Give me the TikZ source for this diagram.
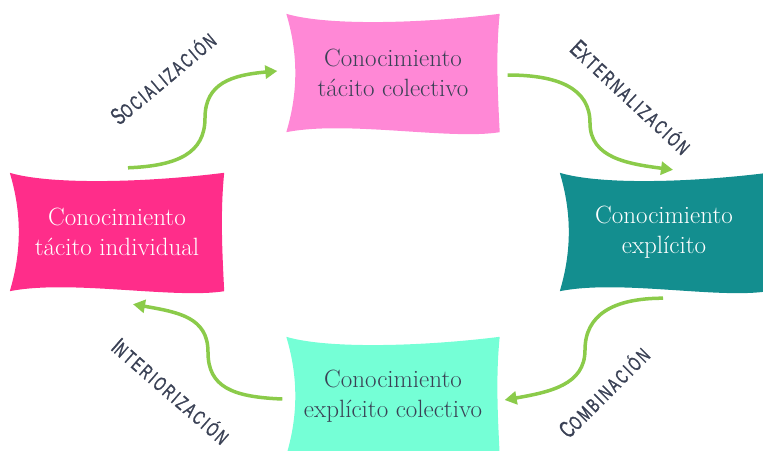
\documentclass[tikz,border=0pt]{standalone}
\usepackage{fontspec}
\newfontfamily\labfont[FakeStretch=0.65,FakeBold=1.2,LetterSpace=12]{Liberation Sans}
\usetikzlibrary{arrows.meta,backgrounds}
\definecolor{rosa}{RGB}{255,45,138}
\definecolor{rosaclaro}{RGB}{255,136,214}
\definecolor{verdeazul}{RGB}{19,142,143}
\definecolor{aguamarina}{RGB}{117,255,214}
\definecolor{flecha}{RGB}{139,203,74}
\definecolor{tinta}{RGB}{58,65,85}
% wavy paper sheet behind a node
\newcommand\ondas[2]{%
  \fill[#2] (#1.north west) .. controls +(40,12) and +(-80,10) .. (#1.north east)
    .. controls +(-4,40) and +(-2,-40) .. (#1.south east)
    .. controls +(-50,8) and +(60,-12) .. (#1.south west)
    .. controls +(12,-40) and +(12,40) .. (#1.north west) -- cycle;}
\newcommand\etiq[2]{{\fontsize{24}{24}\selectfont #1}{\fontsize{20}{20}\selectfont #2}}
\begin{document}
\begin{tikzpicture}[x=1pt,y=-1pt,
  caja/.style={minimum width=#1, minimum height=118pt, inner sep=0pt, align=center,
    font=\fontsize{25}{30}\selectfont},
  flujo/.style={flecha, line width=3.5pt, -{Triangle[length=12pt,width=13pt]}},
  rotulo/.style={tinta, font=\labfont, inner sep=0pt}]
  \useasboundingbox (0,0) rectangle (763,450);
  \node[caja=214pt, white] (tind) at (117,232) {Conocimiento\\tácito individual};
  \node[caja=213pt, tinta] (tcol) at (393,73) {Conocimiento\\tácito colectivo};
  \node[caja=208pt, white] (expl) at (664,232) {Conocimiento\\explícito};
  \node[caja=213pt, tinta] (ecol) at (393,396) {Conocimiento\\explícito colectivo};
  \begin{scope}[on background layer]
    \ondas{tind}{rosa} \ondas{tcol}{rosaclaro}
    \ondas{expl}{verdeazul} \ondas{ecol}{aguamarina}
  \end{scope}
  % turning points of the arrows
  \coordinate (msoc) at (205,118);
  \coordinate (mext) at (590,123);
  \coordinate (mcom) at (585,350);
  \coordinate (mint) at (208,352);
  \draw[flujo] ([shift={(11,-5)}]tind.north) .. controls +(50,-2) and +(0,35) .. (msoc)
    .. controls +(0,-35) and +(-45,4) .. ([shift={(-9,-2)}]tcol.west);
  \draw[flujo] ([shift={(8,2)}]tcol.east) .. controls +(50,0) and +(0,-35) .. (mext)
    .. controls +(0,35) and +(-45,-6) .. ([shift={(9,-3)}]expl.north);
  \draw[flujo] ([shift={(-1,7)}]expl.south) .. controls +(-50,0) and +(0,-35) .. (mcom)
    .. controls +(0,35) and +(45,-8) .. ([shift={(5,4)}]ecol.east);
  \draw[flujo] ([shift={(-4,3)}]ecol.west) .. controls +(-50,-2) and +(0,35) .. (mint)
    .. controls +(0,-35) and +(45,8) .. ([shift={(16,13)}]tind.south);
  \node[rotulo, rotate=40] (lsoc) at (163,78) {\etiq{S}{OCIALIZACIÓN}};
  \node[rotulo, rotate=-43] (lext) at (631,97) {\etiq{E}{XTERNALIZACIÓN}};
  \node[rotulo, rotate=45] (lcom) at (604,392) {\etiq{C}{OMBINACIÓN}};
  \node[rotulo, rotate=-41] (lint) at (171,391) {\etiq{I}{NTERIORIZACIÓN}};
\end{tikzpicture}
\end{document}
